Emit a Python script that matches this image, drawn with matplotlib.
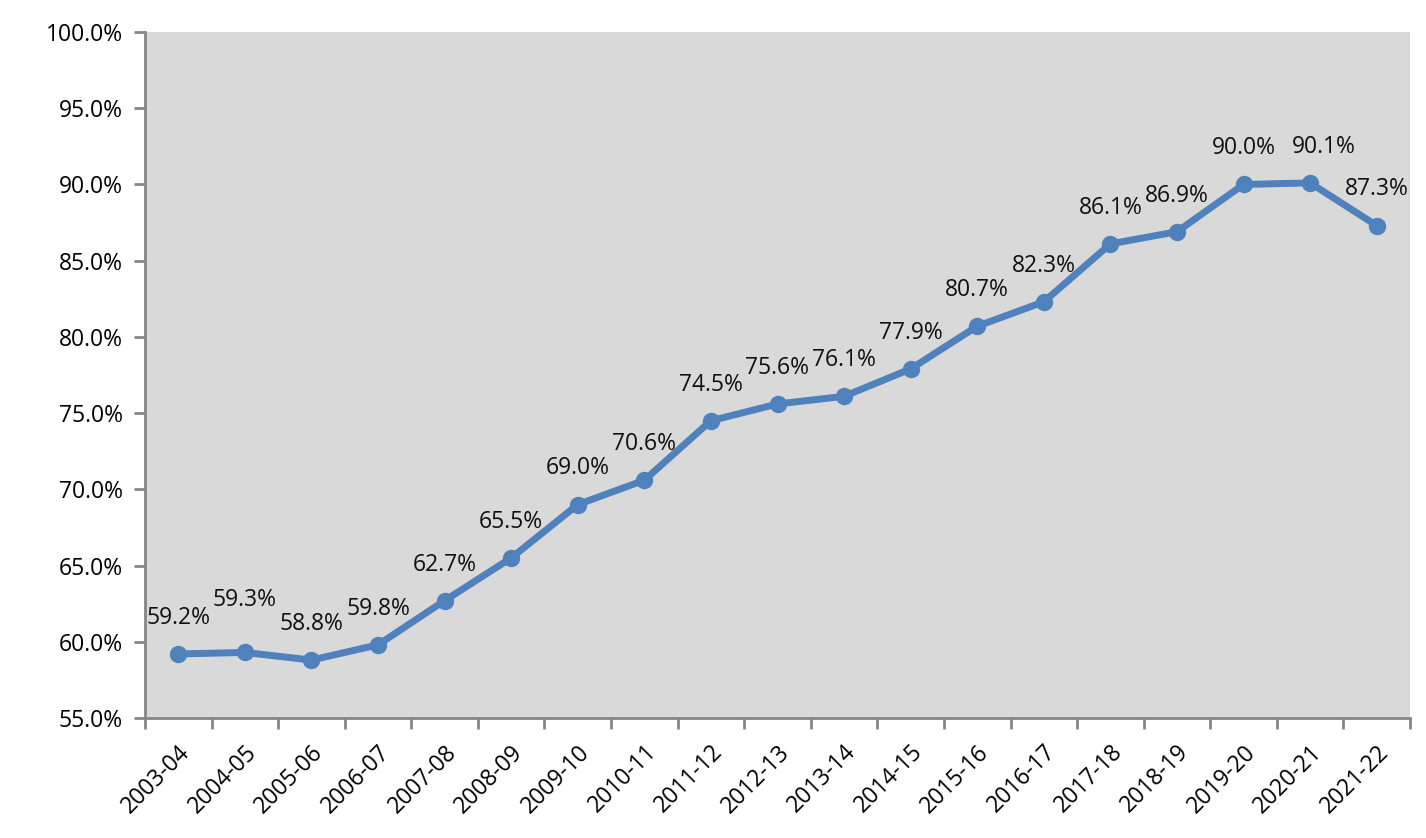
import matplotlib
matplotlib.use("Agg")
import matplotlib.pyplot as plt
from matplotlib.ticker import FuncFormatter, FixedLocator
import numpy as np

plt.rcParams['font.family'] = ['Open Sans', 'DejaVu Sans']

# data
years = ["2003-04", "2004-05", "2005-06", "2006-07", "2007-08", "2008-09",
         "2009-10", "2010-11", "2011-12", "2012-13", "2013-14", "2014-15",
         "2015-16", "2016-17", "2017-18", "2018-19", "2019-20", "2020-21",
         "2021-22"]
rates = [59.2, 59.3, 58.8, 59.8, 62.7, 65.5, 69.0, 70.6, 74.5, 75.6, 76.1,
         77.9, 80.7, 82.3, 86.1, 86.9, 90.0, 90.1, 87.3]

line_col = "#4f81bd"
axis_col = "#868686"

fig = plt.figure(figsize=(14.26, 8.38), dpi=100)
ax = fig.add_axes([145/1426, 1 - 718/838, 1265/1426, 686/838])
ax.set_facecolor("#d9d9d9")

x = np.arange(len(years))
ax.plot(x, rates, color=line_col, lw=5, marker="o", ms=11.5, zorder=3)

# data labels above each point
for i, v in enumerate(rates):
    dx, dy = 0, 26
    if i == 1:
        dy = 38  # excel nudged this one up to avoid overlap
    if i == 17:
        dx = 10
    ax.annotate(f"{v:.1f}%", (i, v), xytext=(dx, dy), textcoords="offset points",
                ha="center", va="center", fontsize=16.5, color="#111111",
                annotation_clip=False)

ax.set_xlim(-0.5, len(years) - 0.5)
ax.set_ylim(55, 100)
ax.set_yticks(np.arange(55, 100.1, 5))
ax.yaxis.set_major_formatter(FuncFormatter(lambda v, p: f"{v:.1f}%"))

ax.set_xticks(x)
ax.set_xticklabels(years, rotation=45, ha="right", rotation_mode="anchor",
                   fontsize=16.5)
ax.tick_params(axis="x", which="major", length=0, pad=16)
ax.xaxis.set_minor_locator(FixedLocator(np.arange(-0.5, len(years), 1)))
ax.tick_params(axis="x", which="minor", length=8, width=2, color=axis_col,
               direction="out")
ax.tick_params(axis="y", length=8, width=2, color=axis_col, labelsize=16.5,
               pad=8)

for s in ["top", "right"]:
    ax.spines[s].set_visible(False)
for s in ["left", "bottom"]:
    ax.spines[s].set_color(axis_col)
    ax.spines[s].set_linewidth(2)

fig.savefig("out.png", dpi=100)
